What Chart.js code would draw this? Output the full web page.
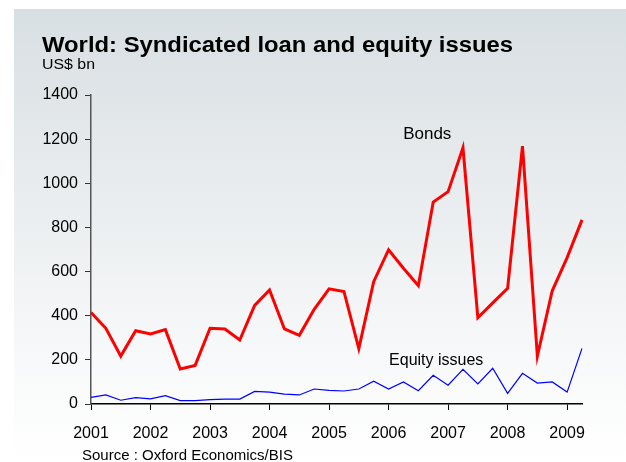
<!DOCTYPE html>
<html>
<head>
<meta charset="utf-8">
<script src="https://cdn.jsdelivr.net/npm/chart.js@4/dist/chart.umd.min.js"></script>
<style>
  html, body { margin: 0; padding: 0; background: #fff; }
  #wrap { width: 626px; height: 462px; position: relative; }
</style>
</head>
<body>
<div id="wrap"><canvas id="c"></canvas></div>
<script>
// data, quarterly, 2001 Q1 .. 2009 Q2
const years = [2001, 2002, 2003, 2004, 2005, 2006, 2007, 2008, 2009];
const quarters = years.flatMap(y => ["Q1", "Q2", "Q3", "Q4"].map(q => y + " " + q)).slice(0, 34);

const bonds = [415, 343, 217, 332, 317, 337, 159, 175, 343, 340, 290, 447, 517, 340, 311, 429,
               522, 510, 251, 554, 699, 615, 536, 915, 962, 1161, 391, 458, 524, 1168, 217, 513, 663, 834];
const equity = [30, 41, 17, 29, 23, 38, 15, 15, 20, 22, 22, 57, 54, 45, 41, 68,
                62, 59, 68, 103, 68, 100, 60, 130, 85, 157, 91, 162, 48, 139, 95, 100, 54, 252];

const yTicks = [0, 200, 400, 600, 800, 1000, 1200, 1400];

const FONT = '"Liberation Sans", Arial, sans-serif';

// draw text squeezed/stretched to a given width (the source image is a bit wide)
function wideText(ctx, txt, x, y, w) {
    const m = ctx.measureText(txt).width;
    ctx.save();
    ctx.translate(x, y);
    ctx.scale(w / m, 1);
    ctx.fillText(txt, 0, 0);
    ctx.restore();
}

// panel background + texts
const decor = {
    id: 'decor',
    beforeDraw(chart) {
        const ctx = chart.ctx;
        const g = ctx.createLinearGradient(0, 9, 0, 462);
        g.addColorStop(0, '#d8dfe2');
        g.addColorStop(0.75, '#f7f8f9');
        g.addColorStop(1, '#ffffff');
        ctx.save();
        ctx.fillStyle = '#fff';
        ctx.fillRect(0, 0, chart.width, chart.height);
        ctx.fillStyle = g;
        ctx.fillRect(14, 9, chart.width - 14, chart.height - 9);
        ctx.restore();
    },
    afterDraw(chart) {
        const ctx = chart.ctx;
        const xs = chart.scales.x, ys = chart.scales.y;
        ctx.save();
        ctx.fillStyle = '#000';
        ctx.textBaseline = 'alphabetic';
        ctx.font = 'bold 22px ' + FONT;
        wideText(ctx, 'World: Syndicated loan and equity issues', 42, 52, 471);
        ctx.font = '14px ' + FONT;
        wideText(ctx, 'US$ bn', 42, 69, 53);
        ctx.textAlign = 'center';
        ctx.font = '17px ' + FONT;
        ctx.fillText('Bonds', xs.getPixelForValue(22.6), ys.getPixelForValue(1200));
        ctx.font = '16px ' + FONT;
        ctx.fillText('Equity issues', xs.getPixelForValue(23.2), ys.getPixelForValue(177));
        ctx.textAlign = 'left';
        ctx.font = '15px ' + FONT;
        ctx.fillText('Source : Oxford Economics/BIS', 82, 460);
        ctx.restore();
    }
};

new Chart(document.getElementById('c'), {
    type: 'line',
    data: {
        labels: quarters,
        datasets: [{
            label: 'Bonds',
            data: bonds,
            borderColor: '#ff0000',
            borderWidth: 3,
            pointRadius: 0,
            tension: 0,
            fill: false
        }, {
            label: 'Equity issues',
            data: equity,
            borderColor: '#0000ff',
            borderWidth: 1.2,
            pointRadius: 0,
            tension: 0,
            fill: false
        }]
    },
    options: {
        responsive: true,
        maintainAspectRatio: false,
        animation: false,
        layout: { padding: { left: 0, right: 44, top: 95, bottom: 0 } },
        plugins: { legend: { display: false }, tooltip: { enabled: false } },
        scales: {
            x: {
                type: 'category',
                offset: false,
                afterBuildTicks: s => { s.ticks = s.ticks.filter(t => quarters[t.value].endsWith('Q1')); },
                afterFit: s => { s.height = 58; },
                ticks: {
                    autoSkip: false,
                    maxRotation: 0,
                    padding: 14,
                    color: '#000',
                    font: { family: FONT, size: 16 },
                    callback: function (v) { return this.getLabelForValue(v).slice(0, 4); }
                },
                grid: { display: true, drawOnChartArea: false, drawTicks: true, tickLength: 6, color: '#000' },
                border: { display: true, color: '#000', width: 1.5 }
            },
            y: {
                min: 0,
                max: 1400,
                afterBuildTicks: s => { s.ticks = yTicks.map(v => ({ value: v })); },
                afterFit: s => { s.width = 91; },
                ticks: {
                    padding: 7,
                    color: '#000',
                    font: { family: FONT, size: 16 },
                    callback: v => String(v)
                },
                grid: { display: true, drawOnChartArea: false, drawTicks: true, tickLength: 6, color: '#333' },
                border: { display: true, color: '#555', width: 1.5 }
            }
        }
    },
    plugins: [decor]
});
</script>
</body>
</html>
